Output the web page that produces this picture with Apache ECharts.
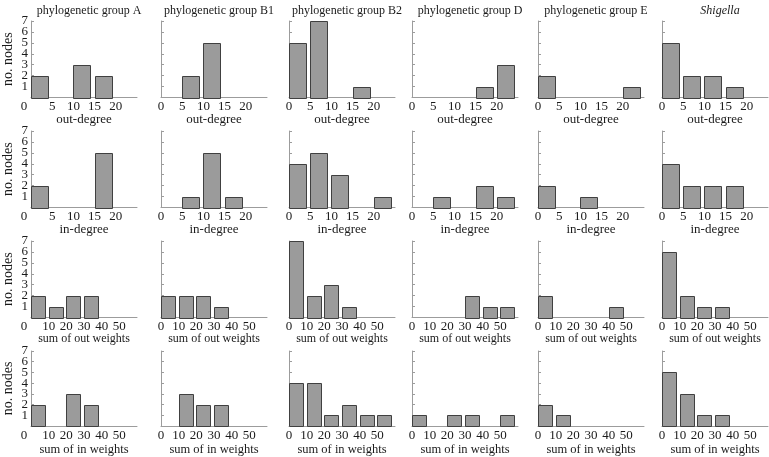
<!DOCTYPE html>
<html><head><meta charset="utf-8">
<script src="https://cdn.jsdelivr.net/npm/echarts@6/dist/echarts.min.js"></script>
<style>html,body{margin:0;padding:0;background:#fff}#c{width:769px;height:457px}</style>
</head><body><div id="c"></div>
<script>
// ---- data (counts per bin) ----
const groups = ['phylogenetic group A','phylogenetic group B1','phylogenetic group B2','phylogenetic group D','phylogenetic group E','Shigella'];
const rowNames = ['out-degree','in-degree','sum of out weights','sum of in weights'];
const degreeTicks = [0,5,10,15,20];
const weightTicks = [0,10,20,30,40,50];
const countLabels = ['','1','2','3','4','5','6','7'];
const outDegree  = [[2,0,3,2,0],[0,2,5,0,0],[5,7,0,1,0],[0,0,0,1,3],[2,0,0,0,1],[5,2,2,1,0]];
const inDegree   = [[2,0,0,5,0],[0,1,5,1,0],[4,5,3,0,1],[0,1,0,2,1],[2,0,1,0,0],[4,2,2,2,0]];
const outWeights = [[2,1,2,2,0,0],[2,2,2,1,0,0],[7,2,3,1,0,0],[0,0,0,2,1,1],[2,0,0,0,1,0],[6,2,1,1,0,0]];
const inWeights  = [[2,0,3,2,0,0],[0,3,2,2,0,0],[4,4,1,2,1,1],[1,0,1,1,0,1],[2,1,0,0,0,0],[5,3,1,1,0,0]];

// ---- layout / style ----
const rows = [outDegree, inDegree, outWeights, inWeights];
const binWidth = [5,5,10,10];
const xMax = [25,25,60,60];
const rowTicks = [degreeTicks, degreeTicks, weightTicks, weightTicks];
const colLeft = [31,161,289,412,538,662];
const rowTop = [21,131,241,351];
const panelW = 106, panelH = 76.5;
const nameFont = [13,13,12,12.5];
const nameGap = [15.5,16,15,17];
const tickFont = 13;
const serif = "'Liberation Serif','DejaVu Serif',serif";
const txt = '#1a1a1a';
const axisCol = '#9c9c9c';

const grid = [], xAxis = [], yAxis = [], series = [], title = [];
groups.forEach((g, c) => {
  title.push({
    text: g, left: colLeft[c] + panelW / 2, top: 0, textAlign: 'center',
    textStyle: {fontFamily: serif, fontSize: 12, fontWeight: 'normal', color: txt, fontStyle: g === 'Shigella' ? 'italic' : 'normal'}
  });
});
rows.forEach((rowData, r) => {
  groups.forEach((g, c) => {
    const k = grid.length;
    grid.push({left: colLeft[c], top: rowTop[r], width: panelW, height: panelH, containLabel: false});
    const ticks = rowTicks[r];
    xAxis.push({
      type: 'value', gridIndex: k, min: 0, max: xMax[r], interval: binWidth[r],
      name: rowNames[r], nameLocation: 'middle', nameGap: nameGap[r], nameMoveOverlap: false,
      nameTextStyle: {fontFamily: serif, fontSize: nameFont[r], color: txt},
      splitLine: {show: false}, axisTick: {show: false},
      axisLine: {show: true, onZero: false, lineStyle: {color: axisCol, width: 1}},
      axisLabel: {
        margin: 3, fontFamily: serif, fontSize: tickFont, color: txt,
        showMinLabel: true, showMaxLabel: false,
        formatter: v => {
          if (ticks.indexOf(v) < 0) return '';
          if (c === 0 && v === 0) return '{z|0}';
          return String(v);
        },
        rich: {z: {fontFamily: serif, fontSize: tickFont, color: txt, padding: [0, 14, 0, 0]}}
      }
    });
    // value axis used for the bars
    const yi = yAxis.length;
    yAxis.push({
      type: 'value', gridIndex: k, min: 0, max: 7, interval: 1,
      name: c === 0 ? 'no. nodes' : '', nameLocation: 'middle', nameGap: 16, nameMoveOverlap: false,
      nameTextStyle: {fontFamily: serif, fontSize: 14, color: txt},
      splitLine: {show: false},
      axisLine: {show: true, lineStyle: {color: axisCol, width: 1}},
      axisTick: {show: true, inside: true, length: 3, lineStyle: {color: axisCol}},
      axisLabel: {show: false}
    });
    // category overlay carrying the count labels (first column only)
    if (c === 0) {
      yAxis.push({
        type: 'category', gridIndex: k, data: countLabels, boundaryGap: false, position: 'left',
        axisLine: {show: false}, axisTick: {show: false}, splitLine: {show: false},
        axisLabel: {show: true, interval: 0, margin: 3, fontFamily: serif, fontSize: tickFont, color: txt}
      });
    }
    const bw = binWidth[r];
    const data = [];
    rowData[c].forEach((cnt, i) => { if (cnt > 0) data.push([i * bw, cnt, bw * 0.8]); });
    series.push({
      type: 'custom', xAxisIndex: k, yAxisIndex: yi, data: data, silent: true,
      renderItem: (params, api) => {
        const p0 = api.coord([api.value(0), 0]);
        const p1 = api.coord([api.value(0) + api.value(2), api.value(1)]);
        return {
          type: 'rect',
          shape: {x: Math.round(p0[0]) + 0.5, y: Math.round(p1[1]) + 0.5, width: Math.round(p1[0] - p0[0]), height: Math.round(p0[1] - p1[1])},
          style: {fill: '#9b9b9b', stroke: '#404040', lineWidth: 1}
        };
      }
    });
  });
});

const chart = echarts.init(document.getElementById('c'), null, {renderer: 'canvas'});
chart.setOption({backgroundColor: '#fff', animation: false, title, grid, xAxis, yAxis, series});
</script></body></html>
